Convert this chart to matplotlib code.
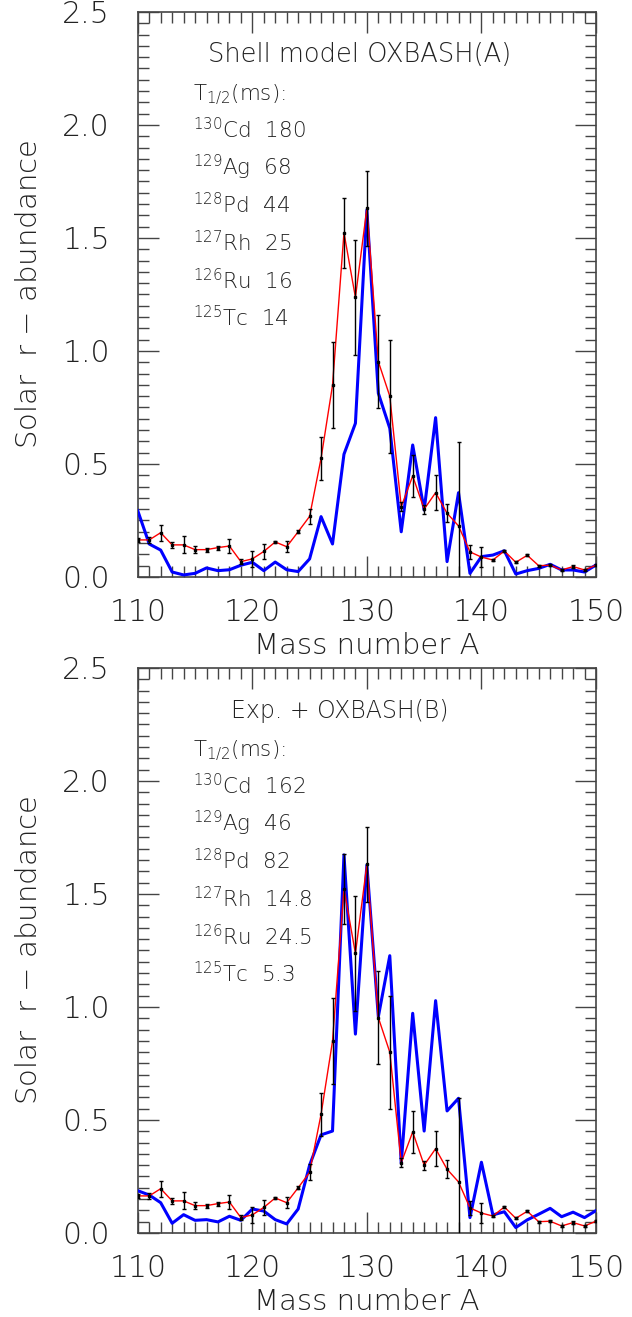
import numpy as np
import matplotlib
matplotlib.use("Agg")
import matplotlib.pyplot as plt
from matplotlib.ticker import MultipleLocator

plt.rcParams['font.family'] = ['DejaVu Sans']
plt.rcParams['mathtext.default'] = 'regular'

# mass numbers
mass = list(range(110, 151))

# solar r-abundance (red, same in both panels) with error bars
solar = [0.164, 0.164, 0.196, 0.142, 0.142, 0.121, 0.121, 0.130, 0.137, 0.068,
         0.080, 0.113, 0.155, 0.134, 0.200, 0.268, 0.525, 0.848, 1.523, 1.237,
         1.631, 0.953, 0.800, 0.311, 0.447, 0.300, 0.373, 0.282, 0.226, 0.111,
         0.088, 0.075, 0.115, 0.065, 0.096, 0.050, 0.052, 0.031, 0.046, 0.031,
         0.052]
solar_err = [0.010, 0.015, 0.035, 0.012, 0.038, 0.014, 0.009, 0.009, 0.031, 0.012,
             0.037, 0.034, 0.005, 0.025, 0.006, 0.035, 0.095, 0.190, 0.155, 0.256,
             0.165, 0.205, 0.250, 0.020, 0.094, 0.020, 0.077, 0.040, 0.370, 0.030,
             0.045, 0.005, 0.005, 0.005, 0.005, 0.005, 0.005, 0.005, 0.005, 0.005,
             0.005]

# model A: shell model OXBASH(A)
model_a = [0.293, 0.146, 0.119, 0.022, 0.009, 0.016, 0.040, 0.028, 0.032, 0.052,
           0.065, 0.028, 0.066, 0.032, 0.024, 0.080, 0.267, 0.146, 0.543, 0.680,
           1.624, 0.813, 0.658, 0.200, 0.584, 0.296, 0.705, 0.068, 0.373, 0.016,
           0.090, 0.097, 0.116, 0.013, 0.028, 0.038, 0.056, 0.031, 0.031, 0.022,
           0.053]

# model B: exp. + OXBASH(B)
model_b = [0.187, 0.168, 0.134, 0.043, 0.081, 0.056, 0.059, 0.049, 0.074, 0.056,
           0.106, 0.097, 0.059, 0.040, 0.106, 0.300, 0.434, 0.451, 1.673, 0.880,
           1.628, 0.957, 1.227, 0.308, 0.972, 0.451, 1.028, 0.540, 0.596, 0.068,
           0.313, 0.080, 0.094, 0.024, 0.058, 0.083, 0.109, 0.072, 0.092, 0.068,
           0.099]

nuclei = ['$^{130}$Cd', '$^{129}$Ag', '$^{128}$Pd', '$^{127}$Rh', '$^{126}$Ru', '$^{125}$Tc']
halflife_a = ['180', '68', '44', '25', '16', '14']
halflife_b = ['162', '46', '82', '14.8', '24.5', '5.3']

titles = ['Shell model OXBASH(A)', 'Exp. + OXBASH(B)']

fig = plt.figure(figsize=(6.32, 13.17), dpi=100)
ax_top = fig.add_axes([0.218, 0.5619, 0.725, 0.429])
ax_bot = fig.add_axes([0.218, 0.0638, 0.725, 0.429])

txt_col = '#222222'

panels = [(ax_top, model_a, titles[0], 0.485, 18.5, halflife_a),
          (ax_bot, model_b, titles[1], 0.44, 17, halflife_b)]

for ax, model, title, tx, tsize, hl in panels:
    ax.plot(mass, model, color='#0000ff', lw=2.2, zorder=3)
    ax.plot(mass, solar, color='#ff0000', lw=1.0, zorder=4)
    ax.errorbar(mass, solar, yerr=solar_err, fmt='s', color='black', ms=2,
                elinewidth=1.0, capsize=1.5, capthick=1.0, zorder=5)

    ax.set_xlim(110, 150)
    ax.set_ylim(0, 2.5)
    ax.xaxis.set_major_locator(MultipleLocator(10))
    ax.xaxis.set_minor_locator(MultipleLocator(1))
    ax.yaxis.set_major_locator(MultipleLocator(0.5))
    ax.yaxis.set_minor_locator(MultipleLocator(0.05))
    ax.yaxis.set_major_formatter(plt.FormatStrFormatter('%.1f'))
    ax.tick_params(which='both', direction='in', top=True, right=True,
                   color='#444444', width=1.0)
    ax.tick_params(which='major', length=15, labelsize=21.5, labelcolor=txt_col)
    ax.tick_params(axis='x', which='major', pad=15)
    ax.tick_params(axis='y', which='major', pad=20)
    ax.tick_params(which='minor', length=8)
    for sp in ax.spines.values():
        sp.set_color('#444444')
        sp.set_linewidth(1.2)
    for lab in ax.get_xticklabels() + ax.get_yticklabels():
        lab.set_fontweight('light')

    ax.set_xlabel('Mass number A', fontsize=21, color=txt_col, labelpad=4,
                  fontweight='light')
    ax.set_ylabel('Solar  r $-$ abundance', fontsize=21, color=txt_col,
                  labelpad=14, fontweight='light')

    ax.text(tx, 0.924, title, transform=ax.transAxes, ha='center', va='center',
            fontsize=tsize, color=txt_col, fontweight='light')
    ax.text(0.12, 0.853, 'T$_{1/2}$(ms):', transform=ax.transAxes, ha='left',
            va='center', fontsize=15.5, color=txt_col, fontweight='light')
    for i, (nuc, t) in enumerate(zip(nuclei, hl)):
        ax.text(0.12, 0.791 - i * 0.0664, nuc + '  ' + t, transform=ax.transAxes,
                ha='left', va='center', fontsize=15.5, color=txt_col,
                fontweight='light')

fig.savefig('out.png', dpi=100)
